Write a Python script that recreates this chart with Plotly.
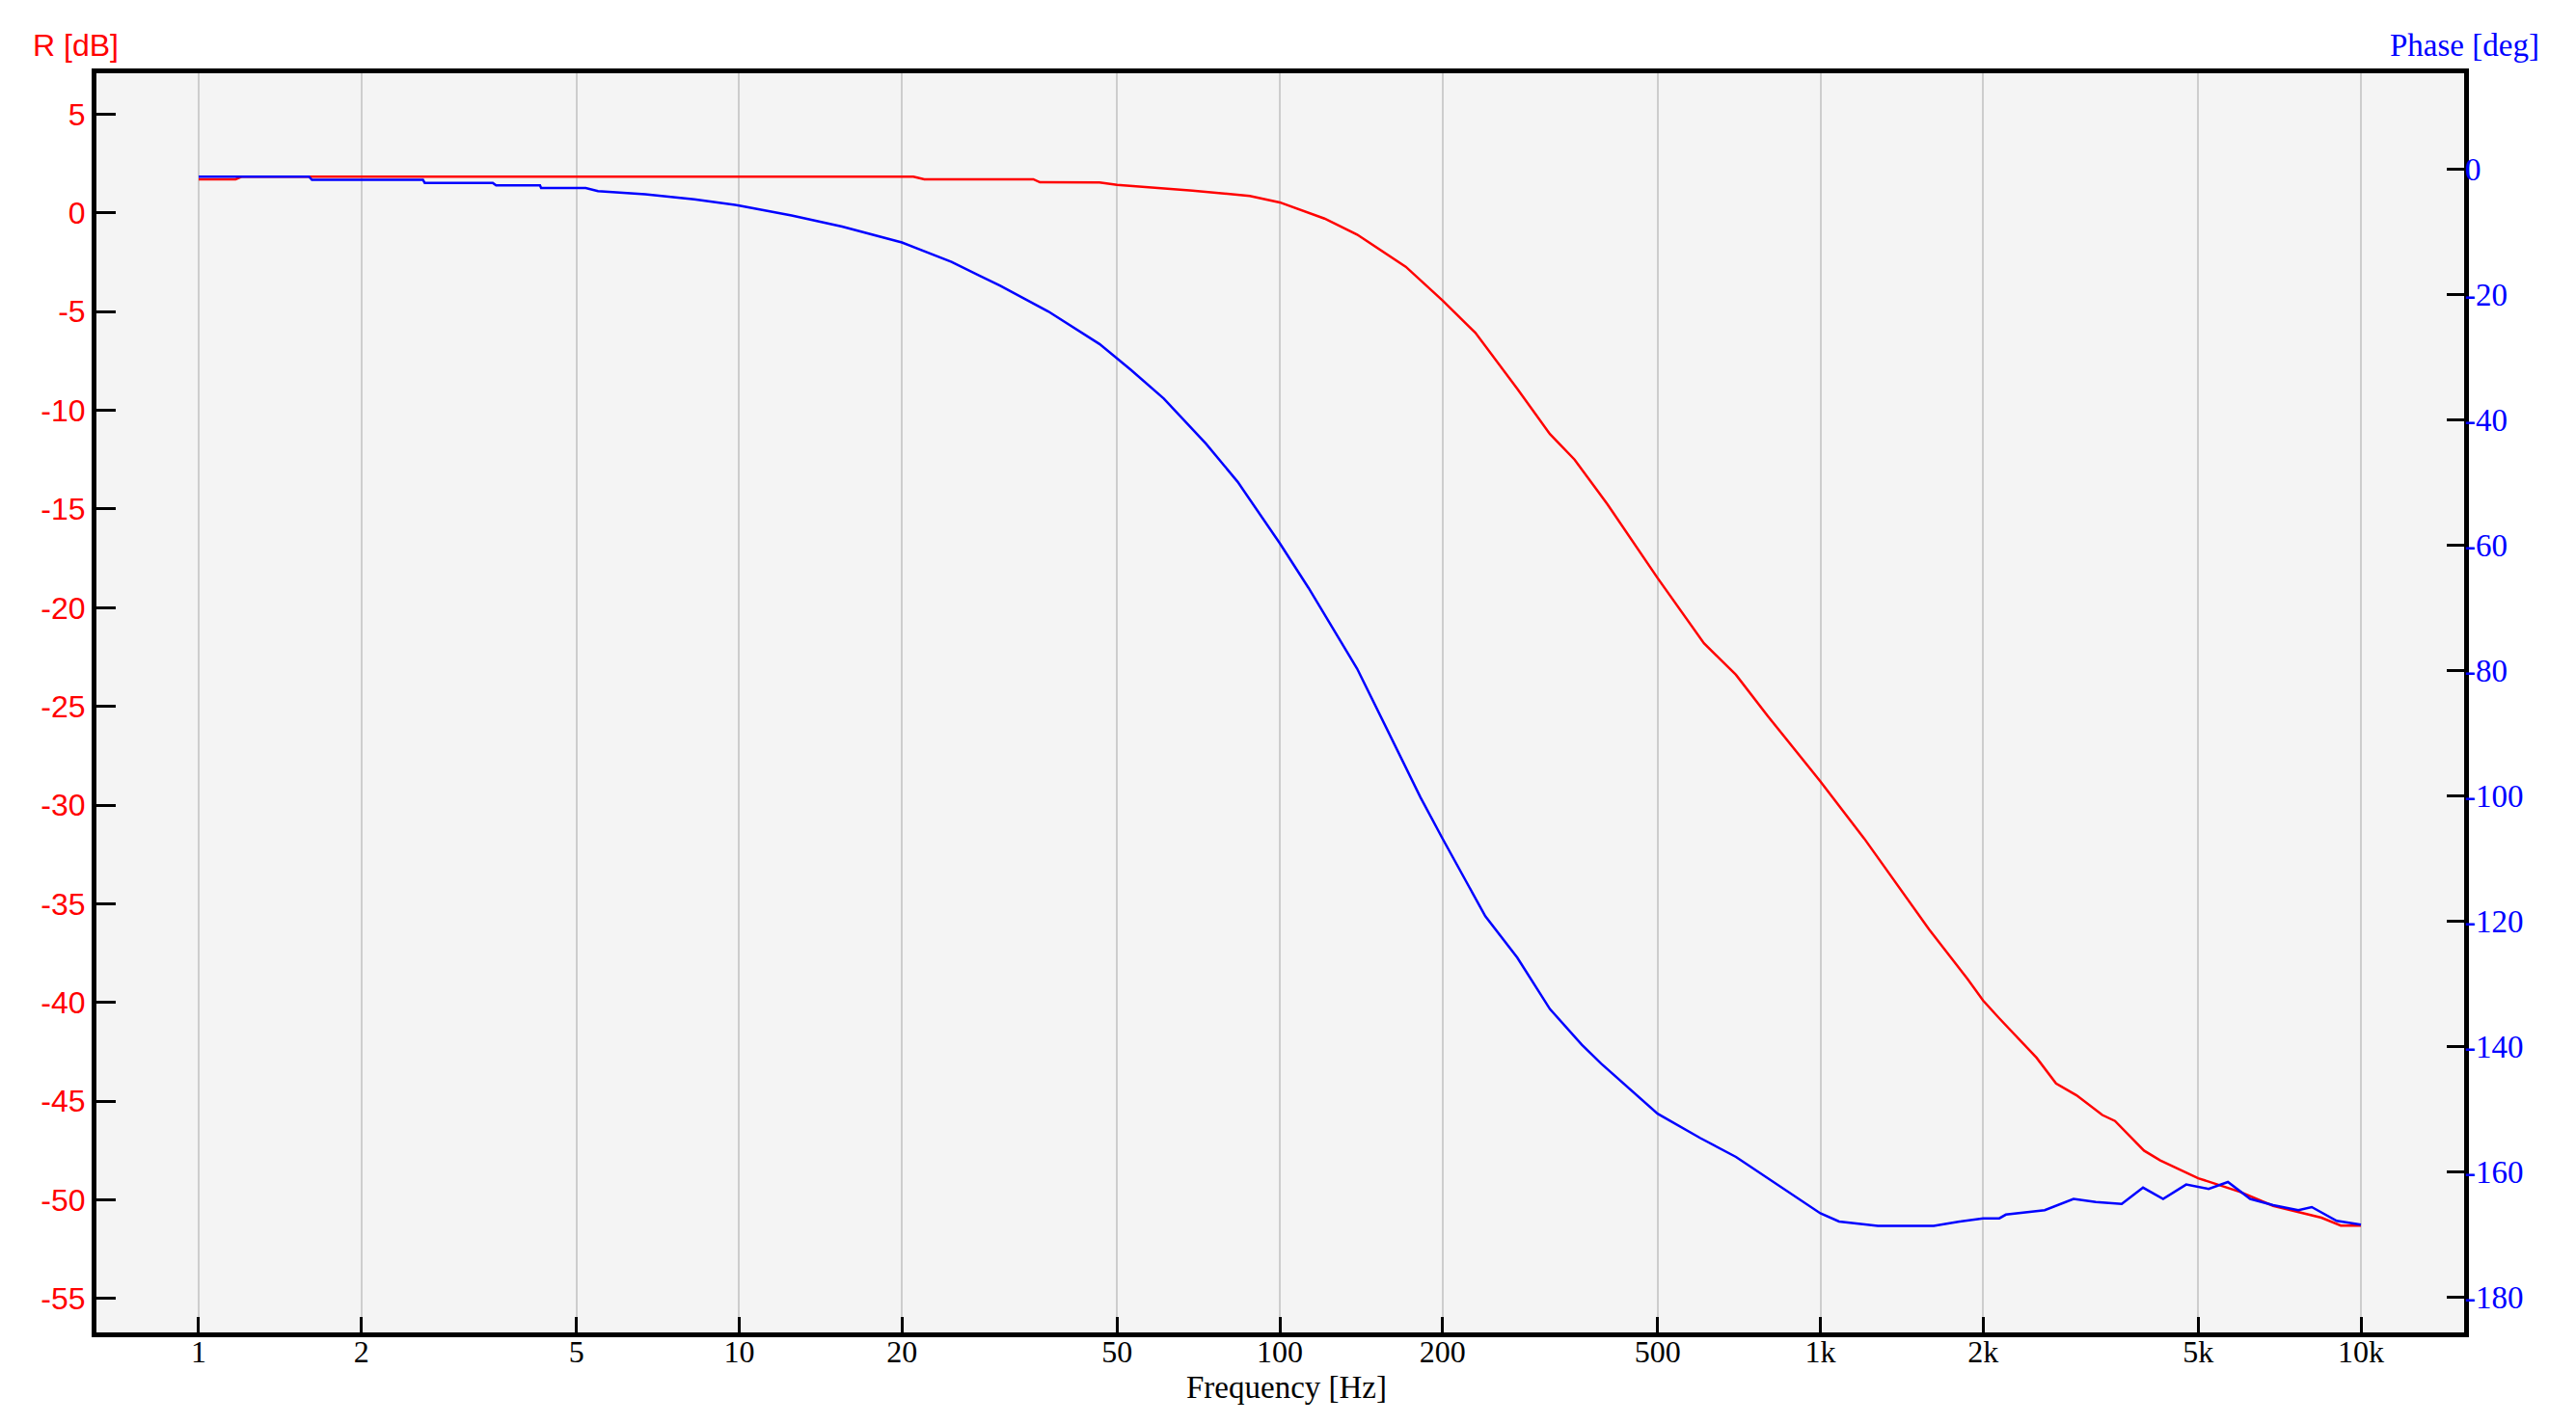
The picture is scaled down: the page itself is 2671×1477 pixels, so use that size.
import plotly.graph_objects as go

# magnitude response
mag_freq = [1.0, 1.17, 1.2, 5, 10, 21, 22, 35, 36, 46.4, 50, 69, 88, 100, 121, 139, 171,
            200, 230, 275, 316, 351, 404, 500, 609, 698, 800, 1000, 1206, 1386, 1589,
            1871, 2000, 2143, 2512, 2729, 2978, 3324, 3508, 3969, 4254, 5000, 5985,
            6880, 8451, 9180, 10000]
mag_db = [1.70, 1.70, 1.83, 1.83, 1.83, 1.83, 1.70, 1.70, 1.55, 1.54, 1.42, 1.13, 0.85,
          0.53, -0.29, -1.10, -2.73, -4.44, -6.07, -8.91, -11.2, -12.5, -14.77, -18.5,
          -21.8, -23.4, -25.5, -28.8, -31.7, -34.0, -36.3, -38.8, -39.9, -40.8, -42.8,
          -44.1, -44.7, -45.7, -46.0, -47.5, -48.0, -48.9, -49.6, -50.3, -50.9, -51.3,
          -51.3]

# phase response
ph_freq = [1.0, 1.6, 1.62, 2.6, 2.62, 3.5, 3.55, 4.28, 4.3, 5.2, 5.48, 6.7, 8.26, 10,
           12.5, 15.5, 20, 24.7, 30.4, 37.3, 46.4, 53, 61, 73, 83.6, 100, 113, 121, 139,
           159, 182, 200, 240, 275, 316, 362, 393, 500, 600, 698, 839, 1000, 1083, 1277,
           1621, 1810, 2000, 2143, 2204, 2600, 2940, 3233, 3610, 3953, 4306, 4750,
           5225, 5675, 6240, 6880, 7350, 7660, 8110, 9020, 10000]
ph_deg = [-1.2, -1.2, -1.7, -1.7, -2.2, -2.2, -2.6, -2.6, -3.0, -3.0, -3.5, -4.0, -4.8,
          -5.8, -7.4, -9.15, -11.7, -14.8, -18.6, -22.7, -27.9, -32.0, -36.6, -43.8,
          -49.9, -59.7, -66.8, -71.0, -79.7, -89.9, -100.2, -106.8, -119.2, -125.8,
          -134.0, -139.7, -142.7, -150.7, -154.6, -157.6, -162.2, -166.6, -167.9,
          -168.6, -168.6, -167.9, -167.4, -167.4, -166.8, -166.1, -164.3, -164.8,
          -165.1, -162.5, -164.3, -162.0, -162.7, -161.6, -164.3, -165.3, -165.8,
          -166.1, -165.6, -167.8, -168.4]

x_ticks = [1, 2, 5, 10, 20, 50, 100, 200, 500, 1000, 2000, 5000, 10000]
x_labels = ["1", "2", "5", "10", "20", "50", "100", "200", "500", "1k", "2k", "5k", "10k"]
db_ticks = list(range(-55, 6, 5))
ph_ticks = list(range(-180, 1, 20))

SERIF = "Liberation Serif, Times New Roman, serif"
NARROW = "Liberation Sans Narrow, Liberation Sans, Arial, sans-serif"

fig = go.Figure()
fig.add_trace(go.Scatter(x=mag_freq, y=mag_db, mode="lines", name="R",
                         line=dict(color="#ff0000", width=2.5)))
fig.add_trace(go.Scatter(x=ph_freq, y=ph_deg, mode="lines", name="Phase", yaxis="y2",
                         line=dict(color="#0000ff", width=2.5)))

# the page body has an 8px margin, so the figure is sized/margined to compensate
fig.update_layout(
    width=2655, height=1461, autosize=False,
    margin=dict(l=92, r=108, t=68, b=87),
    paper_bgcolor="white", plot_bgcolor="#f4f4f4",
    showlegend=False,
    xaxis=dict(
        type="log", range=[-0.1891, 4.1909],
        tickvals=x_ticks, ticktext=x_labels,
        ticks="inside", ticklen=16, tickwidth=3, tickcolor="black",
        tickfont=dict(family=SERIF, size=32, color="black"),
        ticklabelstandoff=-12,
        showgrid=True, gridcolor="#cdcdcd", gridwidth=2,
        showline=True, linecolor="black", linewidth=5, mirror=True,
        zeroline=False,
    ),
    yaxis=dict(
        range=[-56.71, 7.07], tickvals=db_ticks,
        ticktext=[str(v) for v in db_ticks],
        ticks="inside", ticklen=20, tickwidth=3, tickcolor="black",
        tickfont=dict(family=NARROW, size=32, color="#ff0000"),
        showgrid=False, zeroline=False,
        showline=True, linecolor="black", linewidth=5, mirror=True,
    ),
    yaxis2=dict(
        overlaying="y", side="right",
        range=[-185.6, 15.3], tickvals=ph_ticks,
        ticktext=[str(v) for v in ph_ticks],
        ticks="inside", ticklen=18, tickwidth=3, tickcolor="black",
        tickfont=dict(family=SERIF, size=33, color="#0000ff"),
        showgrid=False, zeroline=False, showline=False,
    ),
)

fig.add_annotation(text="R [dB]", xref="paper", yref="paper", x=-0.0277, y=1.022,
                   xanchor="left", yanchor="middle", showarrow=False,
                   font=dict(family=NARROW, size=32, color="#ff0000"))
fig.add_annotation(text="Phase [deg]", xref="paper", yref="paper", x=1.0326, y=1.022,
                   xanchor="right", yanchor="middle", showarrow=False,
                   font=dict(family=SERIF, size=33, color="#0000ff"))
fig.add_annotation(text="Frequency [Hz]", xref="paper", yref="paper", x=0.5026, y=-0.0436,
                   xanchor="center", yanchor="middle", showarrow=False,
                   font=dict(family=SERIF, size=33, color="black"))

fig.write_html("out.html")
